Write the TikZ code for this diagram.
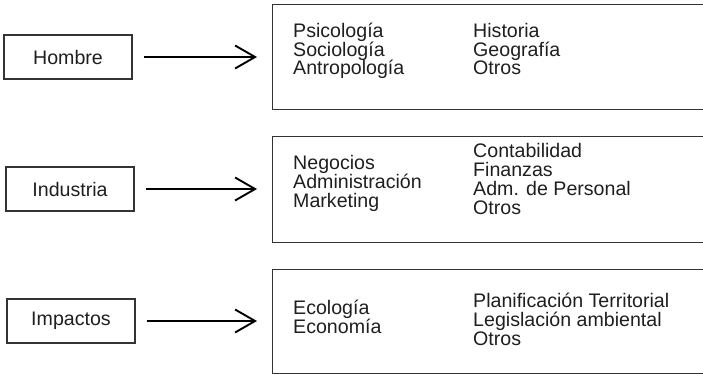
\documentclass[tikz,border=0pt]{standalone}
\usepackage{fontspec}
\setmainfont{Liberation Sans}
\usetikzlibrary{arrows.meta}
\tikzset{
  lbox/.style={draw=black!80, line width=1.1pt, minimum width=128pt, minimum height=44pt, inner sep=0pt},
  bigbox/.style={draw=black!80, line width=1.1pt, minimum width=450pt, anchor=north west, inner sep=0pt},
  col/.style={align=left, anchor=base west, inner sep=0pt},
  arr/.style={-{Straight Barb[length=20pt,width=23pt]}, line width=1.9pt, shorten <=11pt, shorten >=15pt}
}
\begin{document}
\begin{tikzpicture}[x=1pt, y=-1pt, font=\fontsize{19.6}{18.8}\selectfont, text=black!88]
  \useasboundingbox (0,0) rectangle (703,374);
  \clip (0,0) rectangle (703,374);

  \node[lbox] (hombre) at (68,57) {Hombre};
  \node[lbox] (industria) at (70,189) {Industria};
  \node[lbox] (impactos) at (71,321) {Impactos};

  \node[bigbox, minimum height=105pt] (b1) at (272,4) {};
  \node[bigbox, minimum height=106pt] (b2) at (272,136) {};
  \node[bigbox, minimum height=104pt] (b3) at (272,269) {};

  \node[col] (hum) at (293,75) {Psicología\\Sociología\\Antropología};
  \node[col] (hum2) at (473,75) {Historia\\Geografía\\Otros};
  \node[col] (ind) at (293,207) {Negocios\\Administración\\Marketing};
  \node[col] (ind2) at (473,214) {Contabilidad\\Finanzas\\Adm. de Personal\\Otros};
  \node[col] (imp) at (293,333) {Ecología\\Economía};
  \node[col] (imp2) at (473,345) {Planificación Territorial\\Legislación ambiental\\Otros};

  \draw[arr] (hombre) -- (hombre -| b1.west);
  \draw[arr] (industria) -- (industria -| b2.west);
  \draw[arr] (impactos) -- (impactos -| b3.west);
\end{tikzpicture}
\end{document}
